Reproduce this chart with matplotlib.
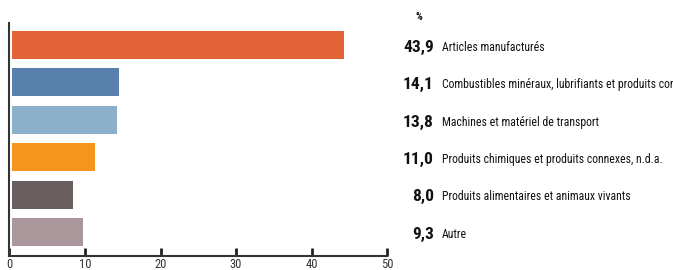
import matplotlib
matplotlib.use("Agg")
import matplotlib.pyplot as plt
from matplotlib import font_manager as fm

names = {f.name for f in fm.fontManager.ttflist}
narrow = next((n for n in ["Roboto Condensed", "Archivo Narrow", "PT Sans Narrow",
                           "Liberation Sans Narrow"] if n in names), "DejaVu Sans")

categories = ["Articles manufacturés",
              "Combustibles minéraux, lubrifiants et produits connexes",
              "Machines et matériel de transport",
              "Produits chimiques et produits connexes, n.d.a.",
              "Produits alimentaires et animaux vivants",
              "Autre"]
values = [43.9, 14.1, 13.8, 11.0, 8.0, 9.3]
value_labels = ["43,9", "14,1", "13,8", "11,0", "8,0", "9,3"]
colors = ["#E26335", "#5780AD", "#8AB0CA", "#F7941E", "#6A5F5F", "#AA979B"]
xticks = [0, 10, 20, 30, 40, 50]

fig = plt.figure(figsize=(6.73, 2.70), dpi=100)
ax = fig.add_axes([9.3/673, 1-256/270, (387.3-9.3)/673, (256-23)/270])

ypos = list(range(len(values)))
ax.barh(ypos, values, left=0.4, height=0.75, color=colors)
ax.set_xlim(0, 50)
ax.set_ylim(5.64, -0.59)
ax.set_yticks([])
ax.set_xticks(xticks)
ax.set_xticklabels([str(t) for t in xticks], fontfamily=narrow, fontsize=9, color="#333333")
ax.tick_params(axis="x", direction="in", length=6, width=2, color="#222222", pad=1.5)
for s in ["top", "right"]:
    ax.spines[s].set_visible(False)
for s in ["left", "bottom"]:
    ax.spines[s].set_color("#333333")
    ax.spines[s].set_linewidth(1.5)

xval = (434 - 9.3) / 7.56
xtxt = (442 - 9.3) / 7.56
for y, lab, cat in zip(ypos, value_labels, categories):
    ax.text(xval, y + 0.06, lab, ha="right", va="center", fontfamily=narrow,
            fontweight=800, fontsize=12.5, color="#111111", clip_on=False)
    ax.text(xtxt, y + 0.06, cat, ha="left", va="center", fontfamily=narrow,
            fontsize=8.5, color="#111111", clip_on=False)
ax.text((419 - 9.3) / 7.56, -0.75, "%", ha="center", va="center", fontfamily=narrow,
        fontweight="bold", fontsize=7.5, color="#111111", clip_on=False)

fig.savefig("out.png", dpi=100)
